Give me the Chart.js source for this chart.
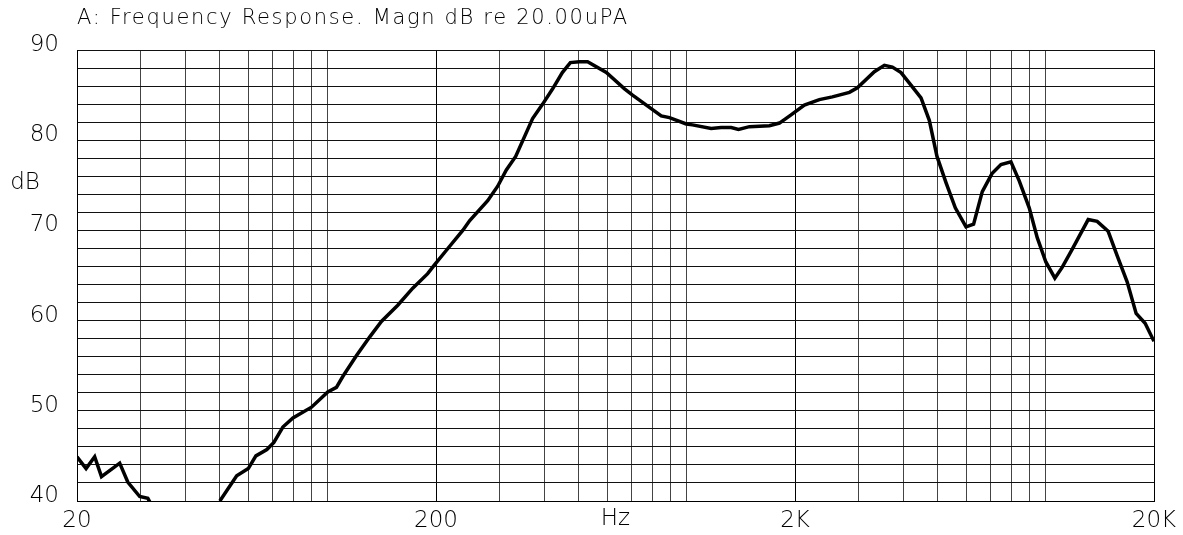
<!DOCTYPE html>
<html>
<head>
<meta charset="utf-8">
<script src="https://cdn.jsdelivr.net/npm/chart.js@4"></script>
<style>
  html, body { margin: 0; padding: 0; background: #fff; }
  #wrap { width: 1183px; height: 535px; }
</style>
</head>
<body>
<div id="wrap"><canvas id="freqResp" width="1183" height="535"></canvas></div>
<script>
// frequency response (Hz / dB)
const lowFreq = [20, 21.2, 22.4, 23.4, 26.3, 27.7, 29.9, 31.5, 31.9];
const lowLevel = [44.9, 43.6, 44.9, 42.7, 44.2, 42.1, 40.5, 40.3, 39.9];

const freq = [50, 55.7, 60, 63, 67.6, 70.7, 74.9, 79.9, 90, 99.9, 105.6, 110, 120, 130.8, 140.9,
  156.5, 172.3, 189.6, 198.3, 213.8, 237.4, 248.3, 278.6, 297.1, 314, 333.4, 371.6, 396.4,
  422.6, 449.7, 473.4, 502.2, 528.8, 596.3, 670.2, 705.6, 848, 894, 995.6, 1036, 1168, 1245,
  1328, 1392, 1493, 1697, 1810, 1950, 2124, 2338, 2542, 2835, 2984, 3327, 3548, 3734, 3948,
  4208, 4488, 4733, 4972, 5268, 5592, 5989, 6288, 6648, 7075, 7494, 7990, 8426, 8984, 9458,
  9996, 10590, 11096, 11832, 13114, 13892, 14906, 15790, 16834, 17834, 18894, 20000];
const level = [40.0, 42.8, 43.6, 45.0, 45.7, 46.5, 48.2, 49.2, 50.4, 52.1, 52.6, 53.8, 56.1, 58.2, 59.9,
  61.7, 63.6, 65.2, 66.2, 67.8, 70.0, 71.1, 73.3, 74.9, 76.7, 78.2, 82.4, 84.0,
  85.7, 87.5, 88.6, 88.7, 88.7, 87.5, 85.7, 85.0, 82.7, 82.5, 81.8, 81.7, 81.3, 81.4,
  81.4, 81.2, 81.5, 81.6, 81.9, 82.8, 83.9, 84.5, 84.8, 85.3, 85.8, 87.6, 88.3, 88.1, 87.5,
  86.1, 84.7, 82.2, 78.2, 75.3, 72.5, 70.4, 70.7, 74.3, 76.3, 77.3, 77.6, 75.5, 72.5, 69.2,
  66.5, 64.7, 65.9, 67.9, 71.2, 71.0, 69.9, 67.2, 64.3, 60.8, 59.7, 57.7];

const gridFreqs = [20, 30, 40, 50, 60, 70, 80, 90, 100, 200, 300, 400, 500, 600, 700, 800, 900,
  1000, 2000, 3000, 4000, 5000, 6000, 7000, 8000, 9000, 10000, 20000];
const freqLabels = { 20: "20", 200: "200", 2000: "2K", 20000: "20K" };
const dbLabels = [40, 50, 60, 70, 80, 90];

const titleText = "A: Frequency Response. Magn dB re 20.00uPA";
const fontFam = "'DejaVu Sans', sans-serif";

function toPoints(xs, ys) {
    var pts = [];
    for (var i = 0; i < xs.length; i++) {
        pts.push({ x: xs[i], y: ys[i] });
    }
    return pts;
}

const extraText = {
    id: "extraText",
    afterDraw(chart) {
        const ctx = chart.ctx;
        const area = chart.chartArea;
        const xs = chart.scales.x, ys = chart.scales.y;
        ctx.save();
        ctx.fillStyle = "#000";
        // title, stretched to the original width
        ctx.font = "300 21px " + fontFam;
        ctx.textAlign = "left";
        ctx.textBaseline = "middle";
        const w = ctx.measureText(titleText).width;
        ctx.letterSpacing = ((550 - w) / (titleText.length - 1)) + "px";
        ctx.fillText(titleText, area.left, 19);
        ctx.letterSpacing = "0px";
        // axis units
        ctx.font = "300 23px " + fontFam;
        ctx.textAlign = "center";
        ctx.fillText("dB", 25, ys.getPixelForValue(75.2));
        ctx.fillText("Hz", xs.getPixelForValue(632), 519);
        ctx.restore();
    }
};

const freqRespChart = new Chart("freqResp", {
    type: "line",
    data: {
        datasets: [
            {
                data: toPoints(lowFreq, lowLevel),
                borderColor: "#000",
                borderWidth: 3.5,
                pointRadius: 0,
                tension: 0
            },
            {
                data: toPoints(freq, level),
                borderColor: "#000",
                borderWidth: 3.5,
                pointRadius: 0,
                tension: 0
            }]
    },
    options: {
        responsive: false,
        animation: false,
        events: [],
        layout: { padding: { top: 50, right: 29, left: 0, bottom: 0 } },
        plugins: {
            legend: { display: false },
            tooltip: { enabled: false }
        },
        scales: {
            x: {
                type: "logarithmic",
                min: 20,
                max: 20000,
                afterBuildTicks: function (scale) {
                    scale.ticks = gridFreqs.map(function (v) { return { value: v }; });
                },
                afterFit: function (scale) { scale.height = 34; },
                border: { display: true, color: "#000", width: 1 },
                grid: {
                    drawTicks: false,
                    lineWidth: 1,
                    color: function (c) {
                        var v = c.tick ? c.tick.value : 0;
                        return freqLabels[v] ? "#000" : "#444";
                    }
                },
                ticks: {
                    autoSkip: false,
                    maxRotation: 0,
                    padding: 6,
                    color: "#000",
                    font: { family: fontFam, size: 23, weight: 300 },
                    callback: function (v) { return freqLabels[v] || ""; }
                }
            },
            y: {
                min: 40,
                max: 90,
                afterFit: function (scale) { scale.width = 77; },
                border: { display: true, color: "#000", width: 1 },
                grid: { drawTicks: false, color: "#111", lineWidth: 1 },
                ticks: {
                    stepSize: 2,
                    autoSkip: false,
                    padding: 18,
                    labelOffset: -5,
                    color: "#000",
                    font: { family: fontFam, size: 23, weight: 300 },
                    callback: function (v) { return dbLabels.indexOf(v) >= 0 ? String(v) : ""; }
                }
            }
        }
    },
    plugins: [extraText]
});
</script>
</body>
</html>
